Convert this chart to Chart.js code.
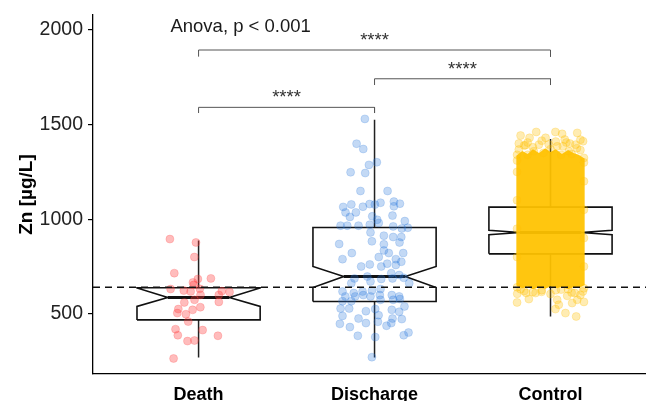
<!DOCTYPE html>
<html>
<head>
<meta charset="utf-8">
<script src="https://cdn.jsdelivr.net/npm/chart.js@4.4.1/dist/chart.umd.min.js"></script>
<style>
html, body { margin: 0; padding: 0; background: #fff; overflow: hidden; }
#cadre { width: 651px; height: 401px; }
</style>
</head>
<body>
<div id="cadre"><canvas id="graphique"></canvas></div>
<script>
// 1. DONNÉES
const groupes = ['Death', 'Discharge', 'Control'];
const basMoustache = [269, 269, 486];
const q1 = [468, 565, 817];
const encocheBas = [539, 639, 918];
const mediane = [586, 697, 930];
const encocheHaut = [637, 750, 941];
const q3 = [638, 956, 1064];
const hautMoustache = [888, 1526, 1424];
const seuil = 640;
const graduationsY = [500, 1000, 1500, 2000];

// Comparaisons (crochets + étoiles)
const comparaisonDe = [1, 2, 1];
const comparaisonA = [3, 3, 2];
const hauteurCrochet = [1894, 1742, 1591];
const baseCrochet = [1859, 1709, 1561];
const etiquettes = ['****', '****', '****'];
const texteAnova = 'Anova, p < 0.001';
const anovaX = 0.84;
const anovaY = 1991;

// Points individuels (valeur + décalage horizontal du jitter)
const deathValeurs = [895, 877, 800, 715, 684, 687, 666, 653, 631, 623, 618, 632, 600, 620, 615, 600,
    574, 560, 563, 525, 504, 521, 535, 498, 459, 419, 414, 387, 384, 356, 359, 264];
const deathDecalage = [-0.163, -0.015, -0.024, -0.138, -0.004, 0.070, -0.032, -0.027, -0.159, -0.084, -0.045, 0.007, 0.011, 0.132, 0.176, 0.115,
    -0.023, -0.081, 0.115, -0.115, -0.121, -0.034, 0.010, -0.072, -0.059, -0.131, 0.023, -0.118, 0.110, -0.063, -0.023, -0.142];

const dischargeValeurs = [1530, 1399, 1371, 1301, 1287, 1248, 1244, 1149, 1149, 1078,
    1065, 1066, 1080, 1077, 1087, 1093, 1082, 1068, 1036, 1036,
    1012, 1019, 1015, 997, 990, 966, 966, 966, 971, 980,
    962, 955, 951, 913, 930, 906, 906, 869, 883, 867,
    877, 821, 835, 821, 789, 800, 789, 821, 750, 761,
    750, 765, 758, 775, 715, 705, 687, 697, 684, 687,
    662, 671, 690, 662, 618, 610, 618, 623, 631, 592,
    592, 599, 592, 599, 599, 592, 567, 567, 574, 574,
    578, 528, 528, 514, 525, 521, 511, 539, 489, 475,
    493, 475, 472, 447, 430, 451, 458, 437, 451, 384,
    377, 387, 401, 271];
const dischargeDecalage = [-0.055, -0.102, -0.064, 0.013, -0.032, -0.136, -0.053, -0.080, 0.074, -0.132,
    -0.178, -0.066, -0.028, 0.002, 0.034, 0.110, 0.144, 0.110, -0.165, -0.106,
    -0.140, 0.102, -0.013, 0.015, 0.172, -0.193, -0.155, -0.091, -0.027, 0.024,
    0.106, 0.189, 0.155, 0.053, -0.023, 0.106, 0.152, -0.201, -0.015, 0.053,
    0.142, -0.129, 0.053, 0.081, -0.182, 0.024, 0.121, 0.163, -0.076, -0.027,
    0.038, 0.072, 0.121, 0.152, 0.095, 0.140, -0.114, -0.041, 0.038, 0.102,
    -0.132, -0.023, 0.166, 0.197, -0.182, -0.118, -0.068, -0.015, 0.034, -0.166,
    -0.110, -0.064, -0.023, 0.030, 0.098, 0.140, -0.182, -0.132, 0.034, 0.106,
    0.144, -0.193, -0.144, -0.049, 0.004, 0.098, 0.140, 0.170, -0.182, -0.091,
    0.023, 0.102, 0.155, -0.197, -0.140, -0.049, 0.019, 0.068, 0.095, -0.095,
    0.004, 0.166, 0.193, -0.015];

// Control : nuage très dense -> enveloppe pleine + points de bordure
const controleBordX = [-0.195, -0.16, -0.13, -0.1, -0.065, -0.03, 0, 0.03, 0.065, 0.1, 0.13, 0.16, 0.195];
const controleBordHaut = [1335, 1360, 1345, 1370, 1350, 1375, 1355, 1370, 1345, 1365, 1350, 1340, 1320];
const controleBordBas = [650, 635, 645, 630, 640, 632, 645, 635, 642, 630, 640, 636, 652];
const controleValeurs = [1442, 1461, 1430, 1461, 1451, 1456, 1412, 1394, 1421, 1430, 1394, 1391, 1368,
    1385, 1324, 1359, 1359, 1340, 1370, 1345, 1350, 1365, 1340, 1300, 1310, 1340,
    1400, 1405, 1380, 1415, 1395, 1410, 1385, 1400, 1375, 1420, 1390, 1405,
    606, 610, 578, 616, 560, 574, 595, 610, 618, 563, 548, 557, 525, 504, 486, 574, 610,
    630, 625, 628, 635, 640, 630, 620, 615, 605, 625, 612, 600,
    1250, 1100, 950, 800, 1200, 1050, 900, 750];
const controleDecalage = [-0.170, -0.081, -0.119, 0.028, 0.066, 0.152, 0.185, 0.142, 0.081, -0.028, -0.066, -0.142, -0.180,
    0.038, 0.19, -0.095, 0.104, -0.19, 0.0, 0.12, -0.04, 0.17, -0.13, 0.19, -0.19, 0.06,
    -0.18, -0.13, -0.1, -0.05, -0.01, 0.03, 0.07, 0.11, 0.15, 0.17, -0.15, 0.09,
    -0.189, -0.138, -0.123, -0.051, -0.19, 0.038, 0.095, 0.138, 0.184, 0.19, 0.047, 0.123, 0.028, 0.085, 0.146, 0.152, -0.085,
    -0.17, -0.05, 0.06, 0.19, -0.19, 0.1, -0.15, -0.1, 0.0, 0.03, 0.12, 0.17,
    -0.19, -0.19, -0.19, -0.19, 0.19, 0.19, 0.19, 0.19];

// 2. CONSTRUCTION DES JEUX DE DONNÉES
const DEMI_LARGEUR = 0.35;
let jeux = [];

function trait(points, couleur, epaisseur, ordre, extra = {}) {
    jeux.push(Object.assign({
        type: 'line',
        data: points,
        borderColor: couleur,
        borderWidth: epaisseur,
        pointRadius: 0,
        tension: 0,
        fill: false,
        order: ordre
    }, extra));
}

function nuage(valeurs, decalages, centre, couleur, bord) {
    jeux.push({
        type: 'scatter',
        data: valeurs.map((v, i) => ({ x: centre + decalages[i], y: v })),
        backgroundColor: couleur,
        borderColor: bord,
        borderWidth: 0.6,
        pointRadius: 4,
        order: 1
    });
}

// Ligne de seuil en pointillés (au-dessus de tout)
trait([{ x: 0.4, y: seuil }, { x: 3.6, y: seuil }], '#111', 1.5, 0, { borderDash: [7, 5] });

// Crochets de comparaison
comparaisonDe.forEach((de, i) => {
    const a = comparaisonA[i];
    trait([
        { x: de, y: baseCrochet[i] }, { x: de, y: hauteurCrochet[i] },
        { x: a, y: hauteurCrochet[i] }, { x: a, y: baseCrochet[i] }
    ], '#555', 1, 0);
});

// Points
nuage(deathValeurs, deathDecalage, 1, 'rgba(255,60,60,0.34)', 'rgba(255,60,60,0.36)');
nuage(dischargeValeurs, dischargeDecalage, 2, 'rgba(40,120,220,0.28)', 'rgba(40,120,220,0.32)');
nuage(controleValeurs, controleDecalage, 3, 'rgba(255,192,0,0.3)', 'rgba(255,192,0,0.4)');

// Enveloppe du nuage Control (remplissage entre bord bas et bord haut)
trait(controleBordX.map((d, i) => ({ x: 3 + d, y: controleBordBas[i] })), 'rgba(0,0,0,0)', 0, 2);
trait(controleBordX.map((d, i) => ({ x: 3 + d, y: controleBordHaut[i] })), 'rgba(0,0,0,0)', 0, 2,
    { fill: '-1', backgroundColor: 'rgba(255,194,0,0.94)' });

// Boîtes à encoche
groupes.forEach((g, i) => {
    const c = i + 1;
    const g1 = c - DEMI_LARGEUR, d1 = c + DEMI_LARGEUR;
    const g2 = c - DEMI_LARGEUR / 2, d2 = c + DEMI_LARGEUR / 2;
    trait([
        { x: g1, y: q1[i] }, { x: d1, y: q1[i] }, { x: d1, y: encocheBas[i] },
        { x: d2, y: mediane[i] }, { x: d1, y: encocheHaut[i] }, { x: d1, y: q3[i] },
        { x: g1, y: q3[i] }, { x: g1, y: encocheHaut[i] }, { x: g2, y: mediane[i] },
        { x: g1, y: encocheBas[i] }, { x: g1, y: q1[i] }
    ], '#111', 1.6, 3);
    trait([{ x: g2, y: mediane[i] }, { x: d2, y: mediane[i] }], '#111', 3, 3);
    trait([{ x: c, y: q3[i] }, { x: c, y: hautMoustache[i] }], '#222', 1.5, 3);
    trait([{ x: c, y: q1[i] }, { x: c, y: basMoustache[i] }], '#222', 1.5, 3);
});

// 3. TEXTES (Anova + étoiles) placés via les échelles
const pluginTextes = {
    id: 'textes',
    afterDatasetsDraw(chart) {
        const { ctx, scales: { x, y } } = chart;
        ctx.save();
        ctx.font = '18.5px "Liberation Sans", Arial, sans-serif';
        ctx.textBaseline = 'alphabetic';
        ctx.fillStyle = '#1a1a1a';
        ctx.textAlign = 'left';
        ctx.fillText(texteAnova, x.getPixelForValue(anovaX), y.getPixelForValue(anovaY));
        ctx.textAlign = 'center';
        ctx.fillStyle = '#333';
        etiquettes.forEach((e, i) => {
            const cx = (x.getPixelForValue(comparaisonDe[i]) + x.getPixelForValue(comparaisonA[i])) / 2;
            ctx.fillText(e, cx, y.getPixelForValue(hauteurCrochet[i]) - 4);
        });
        ctx.restore();
    }
};

Chart.defaults.font.family = '"Liberation Sans", Arial, sans-serif';

new Chart(document.getElementById('graphique'), {
    type: 'scatter',
    data: { datasets: jeux },
    plugins: [pluginTextes],
    options: {
        responsive: true,
        maintainAspectRatio: false,
        animation: false,
        layout: { padding: { top: 15, left: 0, right: 0, bottom: 0 } },
        plugins: { legend: { display: false }, tooltip: { enabled: false } },
        scales: {
            x: {
                type: 'linear', min: 0.4, max: 3.545,
                afterBuildTicks: s => { s.ticks = groupes.map((g, i) => ({ value: i + 1 })); },
                ticks: {
                    callback: v => groupes[v - 1],
                    font: { size: 18, weight: 'bold' }, color: '#000',
                    padding: 10, maxRotation: 0, autoSkip: false
                },
                grid: { display: true, drawOnChartArea: false, drawTicks: false },
                border: { display: true, color: '#000', width: 1.3 },
                afterFit: s => { s.height = 27; s.paddingLeft = 0; s.paddingRight = 0; }
            },
            y: {
                type: 'linear', min: 182, max: 2079,
                afterBuildTicks: s => { s.ticks = graduationsY.map(v => ({ value: v })); },
                ticks: { callback: v => String(v), font: { size: 19.5 }, color: '#222', padding: 5 },
                grid: { display: true, drawOnChartArea: false, drawTicks: true, tickLength: 5, color: '#000', lineWidth: 1.2 },
                border: { display: true, color: '#000', width: 1.3 },
                title: { display: true, text: 'Zn [µg/L]', font: { size: 19, weight: 'bold' }, color: '#000', padding: { top: 15 } },
                afterFit: s => { s.width = 93; s.paddingTop = 0; s.paddingBottom = 0; }
            }
        }
    }
});
</script>
</body>
</html>
